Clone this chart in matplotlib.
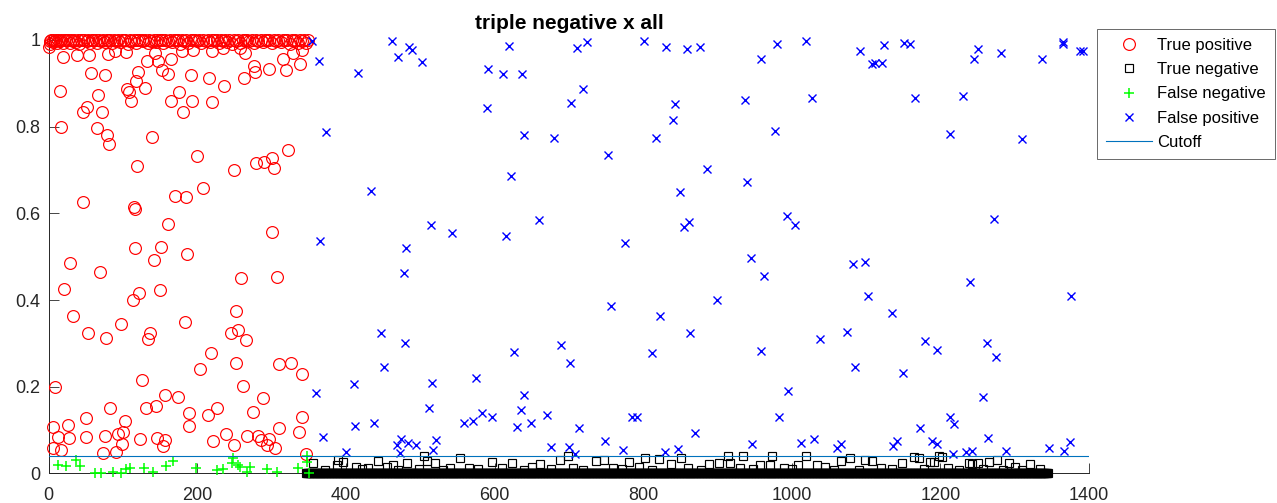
import numpy as np
import matplotlib
matplotlib.use("Agg")
import matplotlib.pyplot as plt

plt.rcParams['font.family'] = ['Liberation Sans', 'DejaVu Sans']

# ---- positives: sample index and score ----
# true positives packed against the top of the score range
tp_top_x = [1, 2, 3, 5, 6, 8, 10, 11, 13, 15, 17, 19, 21, 23, 26, 28, 30, 32, 34, 37, 39, 41, 44, 46, 48,
            51, 53, 55, 58, 60, 63, 65, 68, 70, 73, 75, 78, 80, 83, 85, 88, 91, 93, 96, 98, 101, 103, 106,
            109, 111, 114, 117, 119, 122, 125, 127, 130, 133, 135, 138, 141, 144, 146, 149, 152, 154, 157,
            160, 163, 166, 168, 171, 174, 177, 179, 182, 185, 188, 191, 194, 197, 199, 202, 205, 208, 211,
            214, 217, 220, 223, 226, 229, 232, 234, 237, 240, 243, 246, 249, 252, 255, 258, 261, 264, 267,
            270, 273, 276, 279, 282, 285, 288, 291, 294, 297, 300, 303, 306, 309, 312, 315, 318, 321, 324,
            327, 330, 332, 335, 338, 341, 343, 346, 349]
tp_top_y = [0.990, 0.998, 1.000, 0.995, 1.000, 0.997, 1.000, 0.992, 1.000, 0.998, 1.000, 0.994, 1.000,
            0.999, 1.000, 0.993, 1.000, 0.998, 1.000, 0.996, 1.000, 0.991, 1.000, 0.999, 1.000, 0.997,
            1.000, 0.994, 1.000, 0.999, 1.000, 0.992, 1.000, 0.998, 1.000, 0.995, 1.000, 0.999, 1.000,
            0.993, 1.000, 0.998, 1.000, 0.996, 1.000, 0.999, 1.000, 0.990, 1.000, 0.998, 1.000, 0.994,
            1.000, 0.999, 1.000, 0.997, 1.000, 0.992, 1.000, 0.998, 1.000, 0.995, 1.000, 0.999, 1.000,
            0.993, 1.000, 0.998, 1.000, 0.996, 1.000, 0.999, 1.000, 0.991, 1.000, 0.998, 1.000, 0.994,
            1.000, 0.999, 1.000, 0.997, 1.000, 0.992, 1.000, 0.998, 1.000, 0.995, 1.000, 0.999, 1.000,
            0.993, 1.000, 0.998, 1.000, 0.996, 1.000, 0.990, 1.000, 0.998, 1.000, 0.994, 1.000, 0.999,
            1.000, 0.997, 1.000, 0.992, 1.000, 0.998, 1.000, 0.995, 1.000, 0.999, 1.000, 0.993, 1.000,
            0.998, 1.000, 0.996, 1.000, 0.999, 1.000, 0.991, 1.000, 0.998, 1.000, 0.994, 1.000, 0.997,
            1.000, 0.992, 1.000]

# true positives spread over the rest of the range
tp_x = [0.7, 19.5, 37.5, 54.5, 80.1, 89.1, 103.5, 56.4, 75.6, 15.1, 120.5, 117.4, 131.8, 142.9, 147.4,
        152.8, 160.0, 164.9, 105.7, 108.4, 110.2, 129.9, 66.6, 51.8, 46.4, 72.0, 16.4, 64.5, 78.7, 81.0,
        139.3, 164.1, 175.2, 181.0, 193.1, 191.0, 179.7, 194.5, 216.0, 220.1, 220.0, 236.2, 234.5,
        262.7, 264.0, 257.3, 276.6, 277.5, 296.8, 315.6, 319.2, 329.1, 338.1, 340.4, 118.3, 199.1,
        249.7, 278.4, 289.6, 300.0, 303.1, 322.3,
        45.6, 114.7, 116.0, 169.9, 184.7, 207.5, 160.8, 300.8, 116.0, 151.4, 186.4, 141.6, 28.5, 68.5,
        258.3, 307.5, 20.9, 150.1, 121.8, 112.9, 252.4, 33.0, 97.2, 183.7, 52.8, 77.0, 136.2, 134.0,
        244.8, 255.0, 265.4,
        218.3, 251.5, 203.5, 310.2, 325.6, 340.4, 125.0, 261.8, 8.3, 156.4, 174.3, 287.9, 82.4, 130.4,
        143.9, 226.0, 189.1, 214.7, 275.3, 50.1, 102.2, 341.2, 5.2, 26.2, 189.1, 100.3, 310.2, 337.2,
        93.5, 12.8, 27.2, 50.1, 75.6, 238.5, 267.2, 282.0, 285.6, 296.8, 122.7, 145.2, 156.4, 153.3,
        98.1, 221.4, 249.3, 293.2, 304.4, 6.1, 16.0, 73.4, 90.4, 346.2]
tp_y = [0.984, 0.961, 0.965, 0.965, 0.967, 0.975, 0.973, 0.923, 0.919, 0.883, 0.927, 0.906, 0.952,
        0.969, 0.951, 0.931, 0.921, 0.957, 0.886, 0.879, 0.860, 0.888, 0.874, 0.846, 0.833, 0.834,
        0.800, 0.796, 0.781, 0.760, 0.777, 0.859, 0.879, 0.834, 0.859, 0.919, 0.975, 0.977, 0.913,
        0.857, 0.974, 0.894, 0.981, 0.911, 0.969, 0.981, 0.940, 0.927, 0.932, 0.957, 0.931, 0.969,
        0.944, 0.977, 0.710, 0.733, 0.700, 0.715, 0.718, 0.727, 0.704, 0.746,
        0.625, 0.615, 0.609, 0.641, 0.638, 0.659, 0.575, 0.557, 0.521, 0.522, 0.505, 0.492, 0.485,
        0.465, 0.450, 0.452, 0.426, 0.423, 0.415, 0.399, 0.375, 0.364, 0.345, 0.349, 0.325, 0.312,
        0.325, 0.310, 0.325, 0.331, 0.308,
        0.277, 0.255, 0.240, 0.252, 0.255, 0.229, 0.215, 0.202, 0.200, 0.181, 0.177, 0.173, 0.152,
        0.150, 0.156, 0.152, 0.140, 0.135, 0.142, 0.127, 0.122, 0.131, 0.108, 0.112, 0.110, 0.096,
        0.104, 0.096, 0.090, 0.085, 0.081, 0.083, 0.086, 0.092, 0.087, 0.086, 0.077, 0.079, 0.079,
        0.081, 0.077, 0.063, 0.068, 0.075, 0.066, 0.066, 0.058, 0.058, 0.054, 0.048, 0.050, 0.045]

# positives that fall under the cutoff (false negatives)
fn_x = [12.8, 23.1, 36.6, 41.9, 62.2, 69.8, 86.8, 96.7, 103.9, 109.3, 128.5, 139.8, 157.7, 166.8,
        198.1, 226.0, 234.0, 247.5, 246.1, 255.0, 257.3, 270.8, 267.2, 293.2, 307.5, 335.8, 347.1,
        347.1, 350.6]
fn_y = [0.019, 0.017, 0.031, 0.017, 0.000, 0.000, 0.004, 0.002, 0.010, 0.012, 0.012, 0.004, 0.017,
        0.029, 0.012, 0.008, 0.009, 0.035, 0.023, 0.019, 0.015, 0.015, 0.004, 0.009, 0.004, 0.013,
        0.040, 0.027, 0.002]

# ---- negatives ----
# bulk of true negatives sitting on the floor of the score range
tn_first, tn_last = 346, 1345
tn_floor = 0.002
# true negatives lifted a little off the floor
tn_x = [356, 387.5, 389.7, 396.4, 413.5, 443.5, 463.7, 482.5, 505, 509.4, 519.8, 553.4, 596.1, 623.5,
        661.7, 687.5, 698.8, 736.9, 747.7, 781.3, 802.4, 821.3, 837.9, 850.9, 889, 902.4, 913.5,
        916.8, 933.9, 957.2, 970.6, 973.8, 1008.7, 1018.9, 1033.6, 1066.5, 1078.8, 1099, 1107.5,
        1148, 1164.3, 1170.8, 1186, 1191.4, 1198.1, 1202.8, 1238.9, 1242.4, 1251, 1265.8, 1276.2,
        1293, 1320.6,
        430, 455, 540, 565, 610, 650, 705, 760, 795, 860, 930, 990, 1045, 1120, 1210, 1300,
        372, 421, 470, 498, 531, 578, 639, 676, 719, 772, 812, 878, 948, 1000, 1057, 1090, 1135,
        1178, 1225, 1258, 1284, 1310, 1334]
tn_y = [0.023, 0.019, 0.031, 0.027, 0.015, 0.028, 0.019, 0.023, 0.039, 0.029, 0.023, 0.036, 0.027,
        0.023, 0.021, 0.030, 0.040, 0.029, 0.031, 0.027, 0.036, 0.033, 0.021, 0.036, 0.021, 0.023,
        0.040, 0.024, 0.040, 0.019, 0.019, 0.041, 0.019, 0.039, 0.019, 0.028, 0.035, 0.031, 0.029,
        0.023, 0.037, 0.035, 0.027, 0.027, 0.040, 0.038, 0.023, 0.022, 0.023, 0.027, 0.031, 0.024,
        0.022,
        0.012, 0.014, 0.012, 0.013, 0.012, 0.014, 0.013, 0.012, 0.014, 0.012, 0.013, 0.012, 0.014,
        0.013, 0.012, 0.014,
        0.008, 0.009, 0.007, 0.010, 0.008, 0.009, 0.007, 0.010, 0.008, 0.009, 0.007, 0.008, 0.010,
        0.009, 0.008, 0.007, 0.009, 0.010, 0.008, 0.009, 0.007, 0.008, 0.009]

# negatives scored above the cutoff (false positives)
fp_x = [353.8, 364.1, 372.7, 365.4, 359.6, 368.6, 410.8, 412.1, 400.0,
        462.3, 484.8, 488.4, 469.5, 502.7, 415.7, 619.8, 591.6, 611.3, 636.4, 710.5, 724.4, 801.0,
        830.3, 858.5, 876.0, 718.5, 703.3, 589.3, 843.2, 840.1, 640.0, 680.4, 817.2, 753.1, 885.9,
        622.1, 433.6, 849.1, 659.8, 514.4, 542.7, 615.3, 861.2, 854.9, 775.1, 481.2,
        980.1, 1019.1, 958.5, 1092.2, 1123.7, 1151.0, 1159.5, 1107.5, 1112.0, 1121.8, 1250.6,
        1245.2, 1281.2, 1337.2, 1364.6, 1364.6, 1388.0, 1392.3, 937.0, 1027.2, 1165.8, 1230.8,
        977.0, 1212.9, 1309.8, 940.1, 993.1, 1004.3, 1272.1,
        477.6, 899.7, 756.7, 822.2, 863.0, 446.7, 479.8, 812.3, 626.1, 689.4, 701.0, 451.6, 515.7,
        575.4, 639.6, 511.3, 635.5, 671.0, 583.4, 570.5, 559.3, 596.9, 630.6, 648.6, 437.3, 714.0,
        785.3, 792.1, 869.3, 473.6, 468.6, 483.8, 494.2, 472.7, 520.7, 517.5, 676.3, 699.7, 708.6,
        748.2, 772.4, 829.3, 847.3,
        945.1, 963.0, 1082.0, 1098.1, 1103.0, 1239.9, 1375.8, 1135.3, 1038.4, 1074.3, 1178.9,
        1195.0, 1262.3, 1274.8, 958.9, 1085.0, 1150.0, 995.3, 1257.7, 983.2, 1213.3, 1217.9,
        1172.9, 946.0, 1012.4, 1029.9, 1060.8, 1065.8, 1135.8, 1142.0, 1188.3, 1195.8, 1264.0,
        1216.6, 1234.5, 1243.1, 1287.9, 1345.8, 1366.8, 1374.0]
fp_y = [0.998, 0.951, 0.787, 0.537, 0.186, 0.085, 0.206, 0.110, 0.050,
        0.998, 0.984, 0.977, 0.961, 0.948, 0.923, 0.987, 0.933, 0.921, 0.921, 0.982, 0.996, 0.997,
        0.983, 0.978, 0.984, 0.886, 0.854, 0.844, 0.851, 0.815, 0.780, 0.774, 0.773, 0.734, 0.702,
        0.687, 0.652, 0.648, 0.585, 0.573, 0.555, 0.548, 0.581, 0.568, 0.531, 0.521,
        0.990, 0.998, 0.957, 0.974, 0.988, 0.994, 0.990, 0.944, 0.947, 0.946, 0.979,
        0.955, 0.969, 0.956, 0.996, 0.990, 0.974, 0.975, 0.861, 0.865, 0.866, 0.871,
        0.791, 0.783, 0.771, 0.673, 0.594, 0.573, 0.588,
        0.462, 0.399, 0.386, 0.362, 0.325, 0.325, 0.301, 0.278, 0.281, 0.296, 0.255, 0.245, 0.209,
        0.219, 0.181, 0.151, 0.147, 0.135, 0.140, 0.122, 0.116, 0.129, 0.108, 0.117, 0.117, 0.104,
        0.130, 0.131, 0.094, 0.079, 0.066, 0.069, 0.066, 0.046, 0.076, 0.054, 0.061, 0.061, 0.045,
        0.075, 0.053, 0.049, 0.056,
        0.496, 0.455, 0.482, 0.487, 0.409, 0.441, 0.409, 0.369, 0.310, 0.326, 0.305,
        0.284, 0.301, 0.269, 0.283, 0.246, 0.231, 0.189, 0.176, 0.130, 0.130, 0.115,
        0.104, 0.067, 0.069, 0.079, 0.058, 0.067, 0.064, 0.074, 0.075, 0.067, 0.081,
        0.045, 0.049, 0.052, 0.052, 0.058, 0.051, 0.072]

cutoff = 0.04
x_range = (0, 1400)
x_ticks = [0, 200, 400, 600, 800, 1000, 1200, 1400]
y_ticks = [0, 0.2, 0.4, 0.6, 0.8, 1]
y_tick_labels = ['0', '0.2', '0.4', '0.6', '0.8', '1']
series_labels = ['True positive', 'True negative', 'False negative', 'False positive', 'Cutoff']

# ---- figure ----
W, H = 1277, 503
fig = plt.figure(figsize=(W / 100, H / 100), dpi=100)
ax = fig.add_axes([48.8 / W, (H - 473.4) / H, (1089 - 48.8) / W, (473.4 - 36) / H])

axis_col = '#262626'

tp_all_x = tp_top_x + tp_x
tp_all_y = tp_top_y + tp_y
tn_all_x = list(range(tn_first, tn_last + 1)) + tn_x
tn_all_y = [tn_floor] * (tn_last - tn_first + 1) + tn_y

h_tp, = ax.plot(tp_all_x, tp_all_y, 'o', ls='none', mfc='none', mec='red', ms=8.5, mew=0.85,
                clip_on=False)
h_tn, = ax.plot(tn_all_x, tn_all_y, 's', ls='none', mfc='none', mec='black', ms=6, mew=0.85,
                clip_on=False)
h_fn, = ax.plot(fn_x, fn_y, '+', ls='none', color='#00ff00', ms=7.5, mew=1.1, clip_on=False)
h_fp, = ax.plot(fp_x, fp_y, 'x', ls='none', color='blue', ms=6.2, mew=1.0, clip_on=False)
h_cut, = ax.plot(x_range, [cutoff, cutoff], '-', color='#0072BD', lw=0.8)

ax.set_xlim(*x_range)
ax.set_ylim(0, 1.009)
ax.set_xticks(x_ticks)
ax.set_yticks(y_ticks)
ax.set_yticklabels(y_tick_labels)

for s in ('top', 'right'):
    ax.spines[s].set_visible(False)
for s in ('left', 'bottom'):
    ax.spines[s].set_color(axis_col)
    ax.spines[s].set_linewidth(0.7)
    ax.spines[s].set_zorder(0.5)
ax.tick_params(direction='in', length=7.5, width=0.6, color=axis_col,
               labelcolor=axis_col, labelsize=13)
ax.tick_params(axis='x', pad=10)
ax.tick_params(axis='y', pad=6)

ax.set_title('triple negative x all', fontsize=15, fontweight='bold', pad=5)

leg = fig.legend([h_tp, h_tn, h_fn, h_fp, h_cut], series_labels,
                 loc='upper left', bbox_to_anchor=(1097 / W, 1 - 29 / H),
                 bbox_transform=fig.transFigure, borderaxespad=0,
                 fontsize=12, frameon=True, fancybox=False, handlelength=2.75,
                 handletextpad=0.3, labelspacing=0.55, borderpad=0.55)
leg.get_frame().set_edgecolor(axis_col)
leg.get_frame().set_linewidth(0.6)

fig.savefig('out.png', dpi=100)
